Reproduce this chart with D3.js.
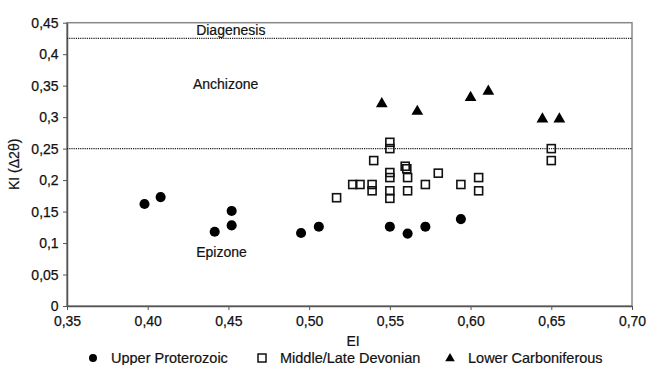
<!DOCTYPE html>
<html><head><meta charset="utf-8">
<script src="https://cdn.jsdelivr.net/npm/d3@7"></script>
<style>body{margin:0;background:#fff}svg{display:block;font-family:"Liberation Sans",Arial,sans-serif}</style>
</head><body><svg id="c" width="648" height="365"></svg>
<script>
const xTicks = [0.35,0.40,0.45,0.50,0.55,0.60,0.65,0.70];
const yTicks = [0,0.05,0.1,0.15,0.2,0.25,0.3,0.35,0.4,0.45];
const proterozoicEI = [0.398,0.408,0.4415,0.452,0.452,0.495,0.506,0.550,0.561,0.572,0.594];
const proterozoicKI = [0.162,0.173,0.118,0.151,0.128,0.116,0.126,0.126,0.115,0.126,0.138];
const devonianEI = [0.517,0.527,0.5315,0.539,0.539,0.540,0.550,0.550,0.550,0.550,0.550,0.550,0.5595,0.5605,0.561,0.561,0.572,0.580,0.594,0.605,0.605,0.650,0.650];
const devonianKI = [0.172,0.193,0.193,0.193,0.183,0.231,0.260,0.250,0.212,0.204,0.183,0.171,0.222,0.218,0.204,0.183,0.193,0.211,0.193,0.204,0.183,0.250,0.231];
const carboniferousEI = [0.545,0.567,0.600,0.611,0.6445,0.655];
const carboniferousKI = [0.321,0.309,0.331,0.341,0.297,0.297];
const zoneLines = [0.425,0.25];
const zoneLabels = ["Diagenesis","Anchizone","Epizone"];
const zoneLabelX = [0.43,0.428,0.43];
const zoneLabelY = [0.431,0.345,0.078];
const legendLabels = ["Upper Proterozoic","Middle/Late Devonian","Lower Carboniferous"];

const svg = d3.select("#c");
const L=67,R=632,T=22.7,B=306;
const x = d3.scaleLinear().domain([0.35,0.70]).range([L,R]);
const y = d3.scaleLinear().domain([0,0.45]).range([B,T]);
const fmt2 = d => d3.format(".2f")(d).replace(".",",");
const fmtY = d => d===0 ? "0" : String(+d.toFixed(2)).replace(".",",");

// frame
svg.append("rect").attr("x",L).attr("y",T).attr("width",R-L).attr("height",B-T)
  .attr("fill","none").attr("stroke","#888").attr("stroke-width",1.5);

const gx = svg.append("g").attr("transform",`translate(0,${B})`)
  .call(d3.axisBottom(x).tickValues(xTicks).tickFormat(fmt2).tickSize(4).tickSizeOuter(0));
gx.selectAll("text").attr("font-size",14).attr("fill","#111").attr("dy","0.95em");
const gy = svg.append("g").attr("transform",`translate(${L},0)`)
  .call(d3.axisLeft(y).tickValues(yTicks).tickFormat(fmtY).tickSize(4).tickSizeOuter(0));
gy.selectAll("text").attr("font-size",14).attr("fill","#111").attr("dx","-0.1em");
svg.selectAll(".domain").attr("stroke","#555").attr("stroke-width",1.5);
svg.selectAll(".tick line").attr("stroke","#555");
svg.selectAll(".tick text").attr("stroke","#111").attr("stroke-width",0.25);

// zone lines
svg.selectAll("line.zone").data(zoneLines).join("line").attr("class","zone")
  .attr("x1",L).attr("x2",R).attr("y1",d=>y(d)).attr("y2",d=>y(d))
  .attr("stroke","#222").attr("stroke-width",1.3).attr("stroke-dasharray","1.2,1");
svg.selectAll("text.zl").data(zoneLabels).join("text").attr("class","zl")
  .attr("x",(d,i)=>x(zoneLabelX[i])).attr("y",(d,i)=>y(zoneLabelY[i]))
  .attr("font-size",14).attr("fill","#111").attr("stroke","#111").attr("stroke-width",0.2).text(d=>d);

// markers
const sym = d3.symbol();
const circPath = sym.type(d3.symbolCircle).size(80)();
const triPath = sym.type(d3.symbolTriangle).size(60)();
svg.append("g").selectAll("path").data(proterozoicEI).join("path")
  .attr("d",circPath).attr("transform",(d,i)=>`translate(${x(d)},${y(proterozoicKI[i])})`).attr("fill","#000");
svg.append("g").selectAll("rect").data(devonianEI).join("rect")
  .attr("x",d=>x(d)-4).attr("y",(d,i)=>y(devonianKI[i])-4).attr("width",8).attr("height",8)
  .attr("fill","#fff").attr("fill-opacity",0).attr("stroke","#111").attr("stroke-width",1.6);
svg.append("g").selectAll("path").data(carboniferousEI).join("path")
  .attr("d",triPath).attr("transform",(d,i)=>`translate(${x(d)},${y(carboniferousKI[i])})`).attr("fill","#000");

// axis titles
svg.append("text").attr("x",353).attr("y",346).attr("text-anchor","middle")
  .attr("font-size",14).attr("fill","#111").attr("stroke","#111").attr("stroke-width",0.2).text("EI");
svg.append("text").attr("transform",`translate(19,${(T+B)/2}) rotate(-90)`).attr("text-anchor","middle")
  .attr("font-size",14).attr("fill","#111").attr("stroke","#111").attr("stroke-width",0.2).text("KI (Δ2θ)");

// legend
const legX = [93,262,450];
const lg = svg.append("g");
lg.append("path").attr("d",sym.type(d3.symbolCircle).size(50)()).attr("transform",`translate(${legX[0]},358)`).attr("fill","#000");
lg.append("rect").attr("x",legX[1]-4).attr("y",354).attr("width",8).attr("height",8).attr("fill","none").attr("stroke","#111").attr("stroke-width",1.5);
lg.append("path").attr("d",sym.type(d3.symbolTriangle).size(40)()).attr("transform",`translate(${legX[2]},358.5)`).attr("fill","#000");
lg.selectAll("text").data(legendLabels).join("text")
  .attr("x",(d,i)=>legX[i]+18).attr("y",362.5).attr("font-size",14.5).attr("fill","#111")
  .attr("stroke","#111").attr("stroke-width",0.2).text(d=>d);
</script></body></html>
